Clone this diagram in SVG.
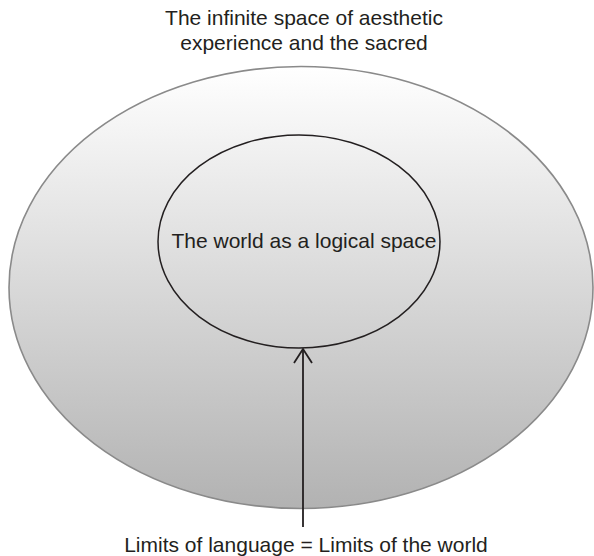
<svg xmlns="http://www.w3.org/2000/svg" width="594" height="556" viewBox="0 0 594 556">
<style>
text{font-family:"Liberation Sans",Arial,sans-serif;font-size:21px;fill:#231f20;text-anchor:middle}
.outer{fill:url(#g);stroke:#8a8a8a;stroke-width:1.6}
.inner{fill:none;stroke:#231f20;stroke-width:1.5}
.conn{stroke:#231f20;stroke-width:1.8;fill:none}
</style>
<defs>
<linearGradient id="g" x1="0" y1="0" x2="0" y2="1">
<stop offset="0" stop-color="#ffffff"/>
<stop offset="1" stop-color="#b2b2b2"/>
</linearGradient>
<marker id="arr" viewBox="0 0 20 20" refX="19" refY="10" markerWidth="20" markerHeight="20" markerUnits="userSpaceOnUse" orient="auto">
<path d="M5,1 L19,10 L5,19" fill="none" stroke="#231f20" stroke-width="1.8"/>
</marker>
</defs>
<g id="outer-space">
<ellipse class="outer" cx="301" cy="287.5" rx="292" ry="221"/>
<text x="304" y="25">The infinite space of aesthetic</text>
<text x="304" y="50">experience and the sacred</text>
</g>
<g id="logical-space">
<ellipse class="inner" cx="299" cy="241.5" rx="141" ry="106.5"/>
<text x="304" y="248">The world as a logical space</text>
</g>
<g id="limits">
<text x="306" y="552">Limits of language = Limits of the world</text>
</g>
<g id="connectors">
<path class="conn" d="M303,527 L303,349" marker-end="url(#arr)"/>
</g>
</svg>
